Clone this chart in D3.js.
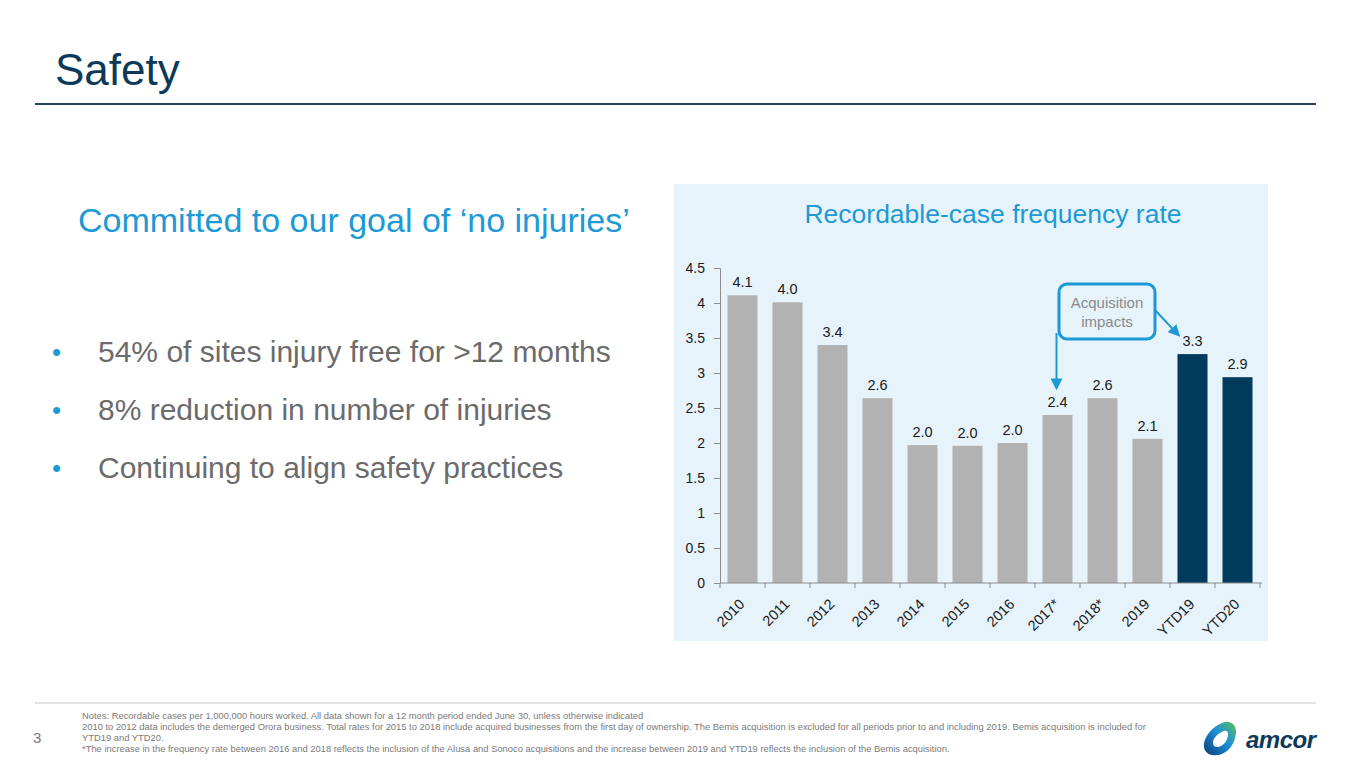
<!DOCTYPE html>
<html>
<head>
<meta charset="utf-8">
<script src="https://cdn.jsdelivr.net/npm/d3@7"></script>
<style>
  body { margin: 0; background: #fff; }
  svg { display: block; font-family: "Liberation Sans", Arial, sans-serif; }
</style>
</head>
<body>
<div id="slide"></div>
<script>
// chart data
var categories = ['2010', '2011', '2012', '2013', '2014', '2015', '2016', '2017*', '2018*', '2019', 'YTD19', 'YTD20'];
var rates      = [4.11, 4.01, 3.40, 2.64, 1.97, 1.96, 2.00, 2.40, 2.64, 2.06, 3.27, 2.94];
var postBemis  = ['YTD19', 'YTD20'];
var yTicks     = [0, 0.5, 1, 1.5, 2, 2.5, 3, 3.5, 4, 4.5];

var bullets = [
    '54% of sites injury free for >12 months',
    '8% reduction in number of injuries',
    'Continuing to align safety practices'
];
var notes = [
    'Notes:  Recordable cases per 1,000,000 hours worked.  All data shown for a 12 month period ended June 30, unless otherwise indicated',
    '2010 to 2012 data includes the demerged Orora business. Total rates for 2015 to 2018 include acquired businesses from the first day of ownership. The Bemis acquisition is excluded for all periods prior to and including 2019.  Bemis acquisition is included for',
    'YTD19 and YTD20.',
    '*The increase in the frequency rate between 2016 and 2018 reflects the inclusion of the Alusa and Sonoco acquisitions and the increase between 2019 and YTD19 reflects the inclusion of the Bemis acquisition.'
];

var W = 1365, H = 768;
var blue = '#1d9ad6', navy = '#003a5d', grey = '#b2b2b2';

var svg = d3.select('#slide').append('svg')
    .attr('width', W)
    .attr('height', H);

// slide header
svg.append('text')
    .attr('x', 55).attr('y', 85)
    .attr('font-size', 44)
    .attr('fill', '#0e3a5a')
    .text('Safety');

svg.append('line')
    .attr('x1', 35).attr('x2', 1316)
    .attr('y1', 104).attr('y2', 104)
    .attr('stroke', '#24405a')
    .attr('stroke-width', 2);

svg.append('text')
    .attr('x', 78).attr('y', 232)
    .attr('font-size', 34)
    .attr('fill', blue)
    .text('Committed to our goal of \u2018no injuries\u2019');

var bl = svg.append('g').selectAll('g')
    .data(bullets)
    .join('g')
    .attr('transform', (d, i) => 'translate(0,' + (362 + i * 58) + ')');
bl.append('text')
    .attr('x', 52)
    .attr('y', -1)
    .attr('font-size', 26)
    .attr('fill', blue)
    .text('\u2022');
bl.append('text')
    .attr('x', 98)
    .attr('font-size', 30)
    .attr('fill', '#6b6b6b')
    .text(d => d);

// chart panel
svg.append('rect')
    .attr('x', 674).attr('y', 184)
    .attr('width', 594).attr('height', 457)
    .attr('fill', '#e6f3fb');

svg.append('text')
    .attr('x', 993).attr('y', 223)
    .attr('text-anchor', 'middle')
    .attr('font-size', 26.5)
    .attr('fill', blue)
    .text('Recordable-case frequency rate');

var x = d3.scaleBand()
    .domain(categories)
    .range([720, 1260])
    .paddingInner(1 / 3)
    .paddingOuter(1 / 6);

var y = d3.scaleLinear()
    .domain([0, 4.5])
    .range([583, 268]);

var chart = svg.append('g');

chart.selectAll('rect.bar')
    .data(categories)
    .join('rect')
    .attr('class', 'bar')
    .attr('x', d => x(d))
    .attr('width', x.bandwidth())
    .attr('y', (d, i) => y(rates[i]))
    .attr('height', (d, i) => y(0) - y(rates[i]))
    .attr('fill', d => postBemis.indexOf(d) >= 0 ? navy : grey);

var fmt = d3.format('.1f');
chart.selectAll('text.val')
    .data(categories)
    .join('text')
    .attr('class', 'val')
    .attr('x', d => x(d) + x.bandwidth() / 2)
    .attr('y', (d, i) => y(rates[i]) - 8)
    .attr('text-anchor', 'middle')
    .attr('font-size', 14.5)
    .attr('fill', '#1a1a1a')
    .text((d, i) => fmt(rates[i]));

// y axis
var yAxis = chart.append('g')
    .attr('transform', 'translate(720,0)')
    .call(d3.axisLeft(y).tickValues(yTicks).tickFormat(d3.format('')).tickSize(6).tickPadding(9));
yAxis.select('.domain').attr('stroke', '#8c8c8c');
yAxis.selectAll('.tick line').attr('stroke', '#8c8c8c');
yAxis.selectAll('.tick text')
    .attr('font-family', '"Liberation Sans", Arial, sans-serif')
    .attr('font-size', 14)
    .attr('fill', '#1a1a1a');

// x axis: ticks between the bands
var xAxis = chart.append('g')
    .attr('transform', 'translate(0,583)');
xAxis.append('line')
    .attr('x1', 720).attr('x2', 1262)
    .attr('stroke', '#8c8c8c');
xAxis.selectAll('line.tk')
    .data(categories.concat(['end']))
    .join('line')
    .attr('class', 'tk')
    .attr('x1', (d, i) => 720 + i * x.step())
    .attr('x2', (d, i) => 720 + i * x.step())
    .attr('y2', 5)
    .attr('stroke', '#8c8c8c');
xAxis.selectAll('text')
    .data(categories)
    .join('text')
    .attr('text-anchor', 'end')
    .attr('font-size', 14.5)
    .attr('fill', '#1a1a1a')
    .attr('transform', d => 'translate(' + (x(d) + x.bandwidth() / 2 + 3) + ',22) rotate(-45)')
    .text(d => d);

// callout
var cx17 = x('2017*') + x.bandwidth() / 2 - 1;
var xY19 = x('YTD19');
var box = { x: 1059, y: 284, w: 96, h: 55 };

var defs = svg.append('defs');
defs.append('marker')
    .attr('id', 'arrow')
    .attr('viewBox', '0 0 10 10')
    .attr('refX', 8).attr('refY', 5)
    .attr('markerWidth', 6).attr('markerHeight', 6)
    .attr('orient', 'auto')
  .append('path')
    .attr('d', 'M0,0 L10,5 L0,10 z')
    .attr('fill', blue);

svg.append('line')
    .attr('x1', cx17).attr('y1', box.y + box.h - 6)
    .attr('x2', cx17).attr('y2', y(rates[7]) - 27)
    .attr('stroke', blue).attr('stroke-width', 2)
    .attr('marker-end', 'url(#arrow)');

svg.append('line')
    .attr('x1', box.x + box.w).attr('y1', box.y + 26)
    .attr('x2', xY19 + 1).attr('y2', y(rates[10]) - 19)
    .attr('stroke', blue).attr('stroke-width', 2)
    .attr('marker-end', 'url(#arrow)');

svg.append('rect')
    .attr('x', box.x).attr('y', box.y)
    .attr('width', box.w).attr('height', box.h)
    .attr('rx', 8)
    .attr('fill', '#e6f3fb')
    .attr('stroke', blue)
    .attr('stroke-width', 3);

svg.append('text')
    .attr('x', box.x + box.w / 2).attr('y', box.y + 24)
    .attr('text-anchor', 'middle')
    .attr('font-size', 15)
    .attr('fill', '#8a8a8a')
    .text('Acquisition');
svg.append('text')
    .attr('x', box.x + box.w / 2).attr('y', box.y + 43)
    .attr('text-anchor', 'middle')
    .attr('font-size', 15)
    .attr('fill', '#8a8a8a')
    .text('impacts');

// footer
svg.append('line')
    .attr('x1', 35).attr('x2', 1316)
    .attr('y1', 703).attr('y2', 703)
    .attr('stroke', '#d9d9d9')
    .attr('stroke-width', 1.5);

svg.append('text')
    .attr('x', 33).attr('y', 743)
    .attr('font-size', 15)
    .attr('fill', '#7a7a7a')
    .text('3');

svg.append('g').selectAll('text')
    .data(notes)
    .join('text')
    .attr('x', 82)
    .attr('y', (d, i) => 718.5 + i * 11)
    .attr('font-size', 9.4)
    .attr('fill', '#7a7a7a')
    .text(d => d);

// logo
var grad = defs.append('linearGradient')
    .attr('id', 'logoGrad')
    .attr('x1', '0%').attr('y1', '100%')
    .attr('x2', '100%').attr('y2', '0%');
grad.append('stop').attr('offset', '0%').attr('stop-color', '#0b3d7a');
grad.append('stop').attr('offset', '55%').attr('stop-color', '#1c8fd6');
grad.append('stop').attr('offset', '100%').attr('stop-color', '#5cc25a');

var logo = svg.append('g').attr('transform', 'translate(1203,721)');
logo.append('path')
    .attr('d', 'M22,1 C28,0 33,4 33,10 C33,20 28,29 19,33 C11,36 2,34 1,26 C0,18 8,5 22,1 Z M21,10 C15,12 10,17 10,22 C10,26 14,27 18,25 C22,23 25,18 25,13 C25,10 23,9 21,10 Z')
    .attr('fill', 'url(#logoGrad)')
    .attr('fill-rule', 'evenodd');
logo.append('text')
    .attr('x', 43).attr('y', 27)
    .attr('font-size', 24)
    .attr('font-weight', 'bold')
    .attr('font-style', 'italic')
    .attr('fill', '#0e3a5a')
    .attr('letter-spacing', -0.5)
    .text('amcor');
</script>
</body>
</html>
